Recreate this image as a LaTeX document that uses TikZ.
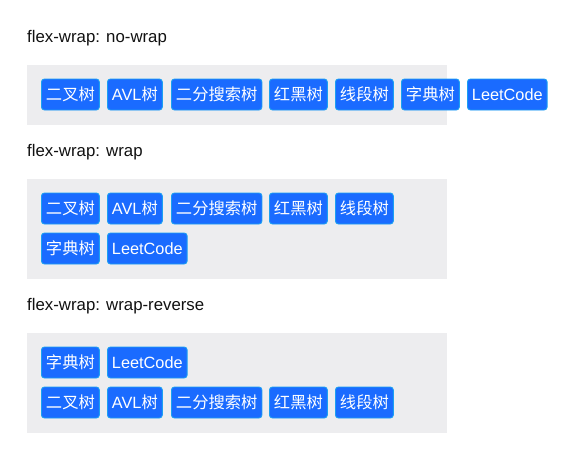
\documentclass[tikz,border=0pt]{standalone}
\usepackage{fontspec}
\setmainfont{Liberation Sans}
\newfontfamily\cjk{Noto Sans CJK SC}
\usetikzlibrary{positioning}
\definecolor{TagBlue}{HTML}{1A6BFF}
\definecolor{TagEdge}{HTML}{1BA0F2}
\definecolor{PanelGray}{HTML}{EDEDEF}
\definecolor{LabelBlack}{HTML}{111111}
\tikzset{
    % Caption above each panel
    captionnode/.style={
        anchor=west,
        inner sep=0pt,
        text=LabelBlack,
        font=\fontsize{16.8}{17}\selectfont
    },
    % Grey flex container
    panelbox/.style={
        fill=PanelGray,
        draw=none
    },
    % Blue tag
    tagnode/.style={
        anchor=west,
        draw=TagEdge,
        fill=TagBlue,
        text=white,
        line width=0.9pt,
        rounded corners=3pt,
        minimum height=31pt,
        inner xsep=4.5pt,
        inner ysep=0pt,
        font=\fontsize{16.3}{16}\selectfont
    }
}
\begin{document}
\begin{tikzpicture}[x=1pt,y=-1pt]
    \useasboundingbox (0,0) rectangle (584,466);
    % no-wrap
    \node[captionnode] (c1) at (27,38.5) {flex-wrap: no-wrap};
    \fill[panelbox] (27,65) rectangle (447,125);
    \node[tagnode] (a1) at (41,94.5) {\cjk 二叉树};
    \node[tagnode] (a2) at (107,94.5) {AVL{\cjk 树}};
    \node[tagnode] (a3) at (171,94.5) {\cjk 二分搜索树};
    \node[tagnode] (a4) at (269,94.5) {\cjk 红黑树};
    \node[tagnode] (a5) at (335,94.5) {\cjk 线段树};
    \node[tagnode] (a6) at (401,94.5) {\cjk 字典树};
    \node[tagnode] (a7) at (467,94.5) {LeetCode};
    % wrap
    \node[captionnode] (c2) at (27,152) {flex-wrap: wrap};
    \fill[panelbox] (27,179) rectangle (447,279);
    \node[tagnode] (b1) at (41,208.5) {\cjk 二叉树};
    \node[tagnode] (b2) at (107,208.5) {AVL{\cjk 树}};
    \node[tagnode] (b3) at (171,208.5) {\cjk 二分搜索树};
    \node[tagnode] (b4) at (269,208.5) {\cjk 红黑树};
    \node[tagnode] (b5) at (335,208.5) {\cjk 线段树};
    \node[tagnode] (b6) at (41,248.5) {\cjk 字典树};
    \node[tagnode] (b7) at (107,248.5) {LeetCode};
    % wrap-reverse
    \node[captionnode] (c3) at (27,306) {flex-wrap: wrap-reverse};
    \fill[panelbox] (27,333) rectangle (447,433);
    \node[tagnode] (r1) at (41,402.5) {\cjk 二叉树};
    \node[tagnode] (r2) at (107,402.5) {AVL{\cjk 树}};
    \node[tagnode] (r3) at (171,402.5) {\cjk 二分搜索树};
    \node[tagnode] (r4) at (269,402.5) {\cjk 红黑树};
    \node[tagnode] (r5) at (335,402.5) {\cjk 线段树};
    \node[tagnode] (r6) at (41,362.5) {\cjk 字典树};
    \node[tagnode] (r7) at (107,362.5) {LeetCode};
\end{tikzpicture}
\end{document}
